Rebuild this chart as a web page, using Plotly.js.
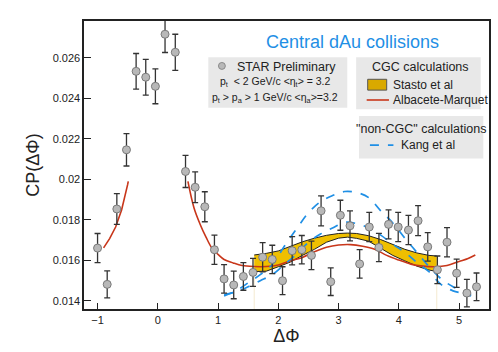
<!DOCTYPE html>
<html>
<head>
<meta charset="utf-8">
<script src="https://cdn.plot.ly/plotly-3.0.1.min.js"></script>
<style>
  body { margin: 0; background: #fff; }
  #chart { width: 498px; height: 352px; }
</style>
</head>
<body>
<div id="chart"></div>
<script>
// STAR data points
const phi = [-1.00, -0.84, -0.68, -0.52, -0.36, -0.20, -0.04, 0.12, 0.29, 0.46,
             0.62, 0.78, 0.94, 1.10, 1.26, 1.42, 1.58, 1.74, 1.90, 2.07,
             2.23, 2.39, 2.55, 2.71, 2.87, 3.03, 3.19, 3.35, 3.51, 3.67,
             3.83, 3.99, 4.16, 4.32, 4.48, 4.64, 4.80, 4.96, 5.13, 5.29];
const cp = [0.01661, 0.01482, 0.01854, 0.02146, 0.02533, 0.02504, 0.02459, 0.02716, 0.02627, 0.02039,
            0.01961, 0.01865, 0.01653, 0.01509, 0.01479, 0.01521, 0.01541, 0.01616, 0.01605, 0.01500,
            0.01648, 0.01653, 0.01625, 0.01845, 0.01495, 0.01823, 0.01771, 0.01583, 0.01765, 0.01664,
            0.01778, 0.01765, 0.01750, 0.01796, 0.01667, 0.01554, 0.01690, 0.01537, 0.01439, 0.01470];
const cpErr = [0.00072, 0.00067, 0.00076, 0.00080, 0.00088, 0.00088, 0.00086, 0.00090, 0.00089, 0.00079,
               0.00076, 0.00074, 0.00072, 0.00070, 0.00068, 0.00068, 0.00069, 0.00072, 0.00070, 0.00069,
               0.00070, 0.00070, 0.00070, 0.00074, 0.00068, 0.00074, 0.00074, 0.00070, 0.00072, 0.00070,
               0.00072, 0.00072, 0.00072, 0.00074, 0.00070, 0.00068, 0.00072, 0.00070, 0.00068, 0.00068];

// Albacete-Marquet (two pieces)
const amLeftX = [-0.90, -0.80, -0.70, -0.60, -0.50, -0.49];
const amLeftY = [0.01662, 0.01708, 0.01765, 0.01850, 0.01975, 0.01990];
const amX = [0.50, 0.60, 0.70, 0.80, 0.90, 1.00, 1.10, 1.25, 1.40, 1.60, 1.80, 2.00, 2.20, 2.40,
             2.60, 2.80, 3.00, 3.20, 3.40, 3.60, 3.80, 4.00, 4.20, 4.40, 4.60, 4.80, 5.00, 5.15, 5.27];
const amY = [0.01990, 0.01860, 0.01780, 0.01715, 0.01660, 0.01630, 0.01605, 0.01588, 0.01575, 0.01570,
             0.01570, 0.01578, 0.01598, 0.01615, 0.01643, 0.01665, 0.01676, 0.01678, 0.01670, 0.01655,
             0.01625, 0.01602, 0.01582, 0.01572, 0.01569, 0.01575, 0.01595, 0.01610, 0.01627];

// Stasto et al band
const bandX = [1.60, 1.80, 2.00, 2.20, 2.40, 2.60, 2.80, 3.00, 3.15, 3.30, 3.50, 3.70, 3.90, 4.10, 4.30, 4.50, 4.63];
const bandTop = [0.01627, 0.01635, 0.01647, 0.01670, 0.01692, 0.01710, 0.01724, 0.01733, 0.01735, 0.01733,
                 0.01722, 0.01703, 0.01680, 0.01655, 0.01637, 0.01625, 0.01622];
const bandLow = [0.01545, 0.01547, 0.01569, 0.01592, 0.01625, 0.01655, 0.01690, 0.01710, 0.01715, 0.01709,
                 0.01695, 0.01660, 0.01625, 0.01598, 0.01572, 0.01553, 0.01545];

// Kang et al (two dashed curves)
const kangX = [1.10, 1.30, 1.50, 1.70, 1.90, 2.10, 2.30, 2.50, 2.70, 2.90, 3.10, 3.30, 3.50, 3.70,
               3.90, 4.10, 4.30, 4.50, 4.70, 4.90, 5.10, 5.20];
const kangHi = [0.01425, 0.01450, 0.01490, 0.01530, 0.01580, 0.01670, 0.01755, 0.01835, 0.01890, 0.01920,
                0.01940, 0.01935, 0.01910, 0.01845, 0.01785, 0.01710, 0.01640, 0.01570, 0.01510, 0.01470,
                0.01443, 0.01428];
const kangLo = [0.01432, 0.01445, 0.01470, 0.01500, 0.01530, 0.01580, 0.01630, 0.01690, 0.01730, 0.01760,
                0.01788, 0.01782, 0.01760, 0.01725, 0.01680, 0.01640, 0.01590, 0.01545, 0.01482, 0.01450,
                0.01435, 0.01425];

const xTicks = [-1, 0, 1, 2, 3, 4, 5];

const font = 'Liberation Sans, Arial, sans-serif';
const red = '#c8361a';
const blue = '#1f8fe5';
const gold = '#efbf00';

const traces = [
  // faint edges of the band down to the axis
  {x: [bandX[0], bandX[0]], y: [0.0136, bandLow[0]], mode: 'lines',
   line: {color: '#f4ead0', width: 1}, hoverinfo: 'skip'},
  {x: [bandX[bandX.length - 1], bandX[bandX.length - 1]], y: [0.0136, bandLow[bandLow.length - 1]], mode: 'lines',
   line: {color: '#f4ead0', width: 1}, hoverinfo: 'skip'},
  {x: bandX, y: bandLow, mode: 'lines', line: {color: '#222', width: 1}},
  {x: bandX, y: bandTop, mode: 'lines', line: {color: '#222', width: 1},
   fill: 'tonexty', fillcolor: gold},
  {x: amLeftX, y: amLeftY, mode: 'lines', line: {color: red, width: 1.6}},
  {x: amX, y: amY, mode: 'lines', line: {color: red, width: 1.6, shape: 'spline'}},
  {x: kangX, y: kangHi, mode: 'lines', line: {color: blue, width: 1.7, dash: 'dash', shape: 'spline'}},
  {x: kangX, y: kangLo, mode: 'lines', line: {color: blue, width: 1.7, dash: 'dash', shape: 'spline'}},
  {x: phi, y: cp, mode: 'markers',
   marker: {size: 8, color: '#b8b8b8', line: {color: '#7a7a7a', width: 1}},
   error_y: {type: 'data', array: cpErr, visible: true, color: '#333', thickness: 1.3, width: 3}}
];

function note(text, x, y, size, extra) {
  return Object.assign({text: text, xref: 'paper', yref: 'paper', x: x, y: y,
    xanchor: 'center', yanchor: 'middle', showarrow: false, font: {size: size}}, extra || {});
}

const layout = {
  width: 498,
  height: 352,
  margin: {l: 84, r: 9, t: 21, b: 43},
  paper_bgcolor: '#fff',
  plot_bgcolor: '#fff',
  showlegend: false,
  font: {family: font, color: '#222', size: 11},
  xaxis: {
    range: [-1.225, 5.497],
    tickvals: xTicks,
    ticks: 'inside',
    ticklen: 6,
    tickcolor: '#222',
    showline: true,
    linecolor: '#222',
    linewidth: 1.6,
    mirror: true,
    showgrid: false,
    zeroline: false,
    tickfont: {size: 11},
    title: {text: 'ΔΦ', font: {size: 18}, standoff: 4}
  },
  yaxis: {
    range: [0.013605, 0.027813],
    tick0: 0.014,
    dtick: 0.002,
    ticks: 'inside',
    ticklen: 7,
    tickcolor: '#222',
    showline: true,
    linecolor: '#222',
    linewidth: 1.6,
    mirror: true,
    showgrid: false,
    zeroline: false,
    tickfont: {size: 11},
    title: {text: 'CP(ΔΦ)', font: {size: 18}, standoff: 8}
  },
  shapes: [
    {type: 'rect', xref: 'paper', yref: 'paper', x0: 0.307, x1: 0.650, y0: 0.699, y1: 0.874,
     fillcolor: '#e8e8e8', line: {width: 0}, layer: 'above'},
    {type: 'rect', xref: 'paper', yref: 'paper', x0: 0.672, x1: 0.9795, y0: 0.694, y1: 0.874,
     fillcolor: '#e8e8e8', line: {width: 0}, layer: 'above'},
    {type: 'rect', xref: 'paper', yref: 'paper', x0: 0.679, x1: 0.986, y0: 0.523, y1: 0.670,
     fillcolor: '#e8e8e8', line: {width: 0}, layer: 'above'},
    {type: 'circle', xref: 'paper', yref: 'paper', x0: 0.332, x1: 0.349, y0: 0.832, y1: 0.856,
     fillcolor: '#b8b8b8', line: {color: '#8a8a8a', width: 1}, layer: 'above'},
    {type: 'rect', xref: 'paper', yref: 'paper', x0: 0.7005, x1: 0.7474, y0: 0.760, y1: 0.7976,
     fillcolor: '#d9a900', line: {color: '#555', width: 1}, layer: 'above'},
    {type: 'line', xref: 'paper', yref: 'paper', x0: 0.698, x1: 0.753, y0: 0.7257, y1: 0.7257,
     line: {color: red, width: 1.6}, layer: 'above'},
    {type: 'line', xref: 'paper', yref: 'paper', x0: 0.706, x1: 0.764, y0: 0.569, y1: 0.569,
     line: {color: blue, width: 1.7, dash: 'dash'}, layer: 'above'}
  ],
  annotations: [
    note('Central dAu collisions', 0.662, 0.927, 18, {font: {size: 18, color: blue}}),
    note('STAR Preliminary', 0.5, 0.842, 12.5),
    note('p<sub>t</sub>  &lt; 2 GeV/c &lt;η<sub>t</sub>&gt; = 3.2', 0.474, 0.789, 10.5),
    note('p<sub>t</sub> &gt; p<sub>a</sub> &gt; 1 GeV/c &lt;η<sub>a</sub>&gt;=3.2', 0.471, 0.7316, 10.5),
    note('CGC calculations', 0.830, 0.839, 12.5),
    note('Stasto et al', 0.758, 0.778, 12, {xanchor: 'left'}),
    note('Albacete-Marquet', 0.758, 0.7257, 12, {xanchor: 'left'}),
    note('"non-CGC" calculations', 0.832, 0.624, 12.5),
    note('Kang et al', 0.778, 0.569, 12, {xanchor: 'left'})
  ]
};

Plotly.newPlot('chart', traces, layout, {displayModeBar: false, staticPlot: true});
</script>
</body>
</html>
